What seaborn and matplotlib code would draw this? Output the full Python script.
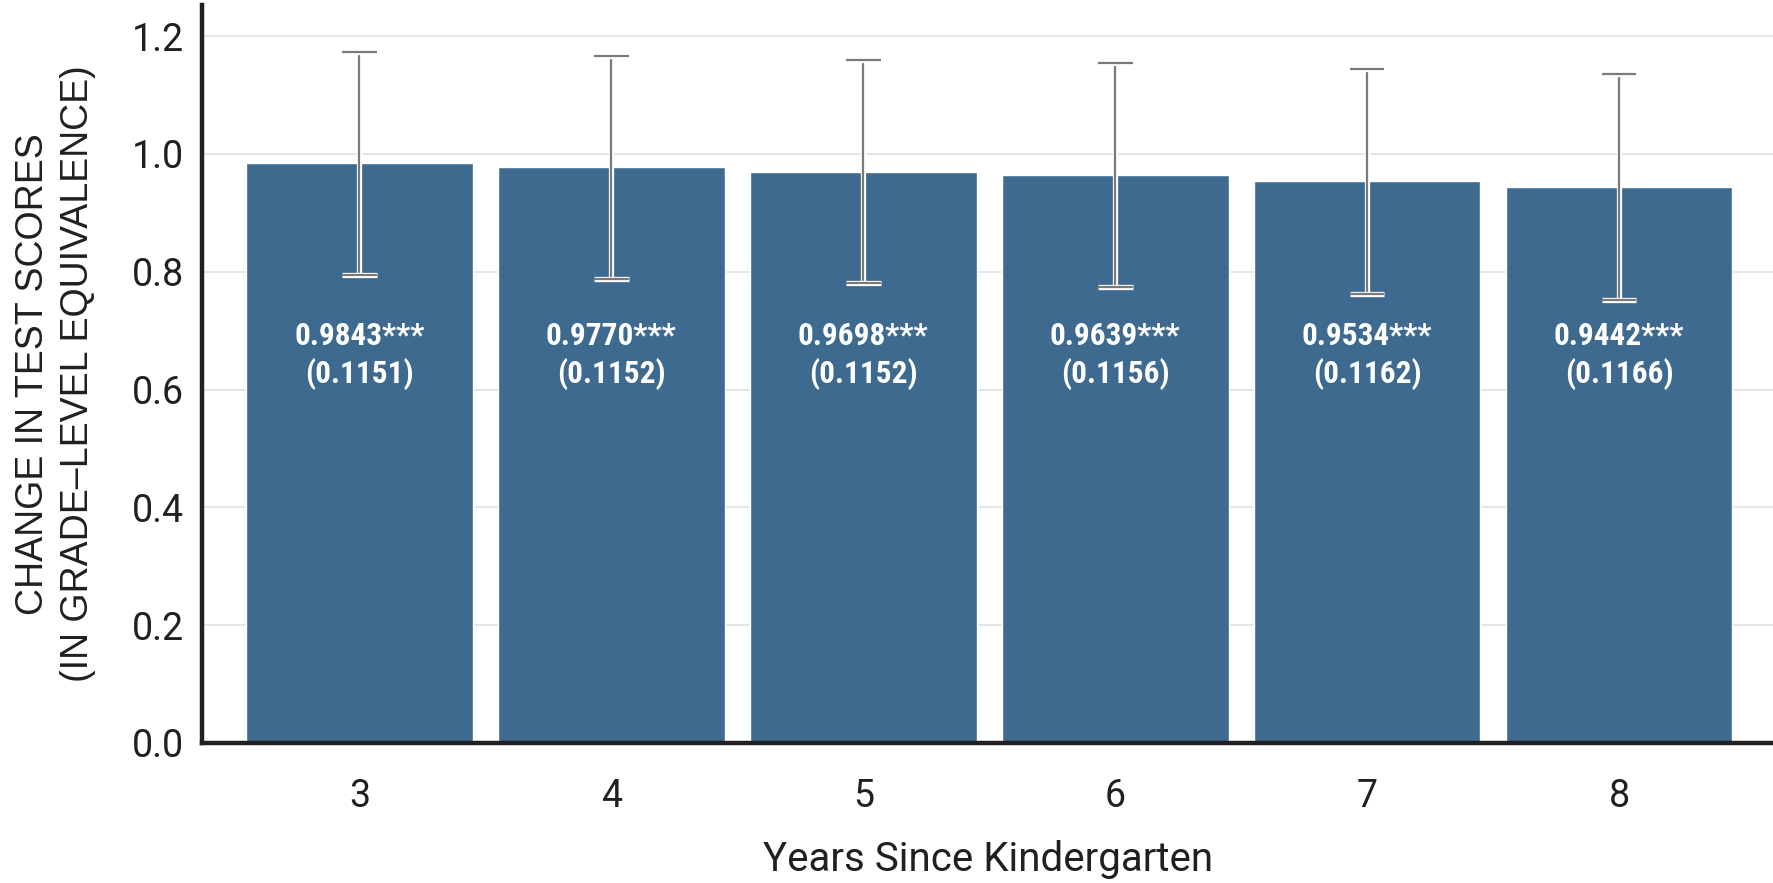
import matplotlib
matplotlib.use("Agg")
import matplotlib.pyplot as plt
import matplotlib.patheffects as pe
from matplotlib import font_manager
import numpy as np
import pandas as pd
import seaborn as sns

# Estimated effect by years since kindergarten, with standard errors
years = ["3", "4", "5", "6", "7", "8"]
estimates = [0.9843, 0.9770, 0.9698, 0.9639, 0.9534, 0.9442]
std_errors = [0.1151, 0.1152, 0.1152, 0.1156, 0.1162, 0.1166]
stars = ["***", "***", "***", "***", "***", "***"]
y_ticks = [0.0, 0.2, 0.4, 0.6, 0.8, 1.0, 1.2]

# 90% confidence interval half-width
z90 = 1.645

BAR_COLOR = "#3e6a8f"
INK = "#231f20"

sns.set_theme(style="white")
plt.rcParams["font.family"] = ["Roboto", "DejaVu Sans"]

installed = {f.name for f in font_manager.fontManager.ttflist}
label_family = "Roboto Condensed" if "Roboto Condensed" in installed else "Roboto"

df = pd.DataFrame({"year": years, "estimate": estimates, "se": std_errors})

fig = plt.figure(figsize=(17.74, 8.83), dpi=100)
ax = fig.add_axes([0.1141, 0.1586, 0.8859, 0.8357])

sns.barplot(data=df, x="year", y="estimate", color=BAR_COLOR, saturation=1,
            width=0.9, errorbar=None, ax=ax, zorder=2)

half = df["se"].to_numpy() * z90
xpos = np.arange(len(df))
eb = ax.errorbar(xpos, df["estimate"], yerr=half, fmt="none", ecolor="#7a7a7a",
                 elinewidth=1.6, capsize=12.5, capthick=1.6, zorder=4)
outline = [pe.Stroke(linewidth=3.8, foreground="white"), pe.Normal()]
for art in list(eb.lines[1]) + list(eb.lines[2]):
    art.set_path_effects(outline)

for x, est, se, st in zip(xpos, estimates, std_errors, stars):
    ax.text(x, 0.657, f"{est:.4f}{st}\n({se:.4f})", ha="center", va="center",
            color="white", fontsize=22.5, fontweight="bold", family=label_family,
            linespacing=1.28, zorder=5)

ax.set_ylim(0, 1.2527)
ax.set_xlim(-0.623, 5.615)
ax.set_yticks(y_ticks)
ax.set_yticklabels([f"{v:.1f}" for v in y_ticks])
ax.yaxis.grid(True, color="#e4e4e4", linewidth=1.3, zorder=0)
ax.set_axisbelow(True)
ax.tick_params(axis="both", length=0, labelsize=27, colors=INK)
ax.tick_params(axis="y", pad=13)
ax.tick_params(axis="x", pad=25)

for side in ("top", "right"):
    ax.spines[side].set_visible(False)
for side in ("left", "bottom"):
    ax.spines[side].set_color(INK)
    ax.spines[side].set_linewidth(3.2)

ax.set_xlabel("Years Since Kindergarten", fontsize=29, color=INK, labelpad=18)
ax.set_ylabel("CHANGE IN TEST SCORES\n(IN GRADE–LEVEL EQUIVALENCE)",
              fontsize=27, color=INK, family=["Liberation Sans", "DejaVu Sans"],
              linespacing=1.3)
ax.yaxis.set_label_coords(-0.068, 0.5)

fig.savefig("out.png", dpi=100)
